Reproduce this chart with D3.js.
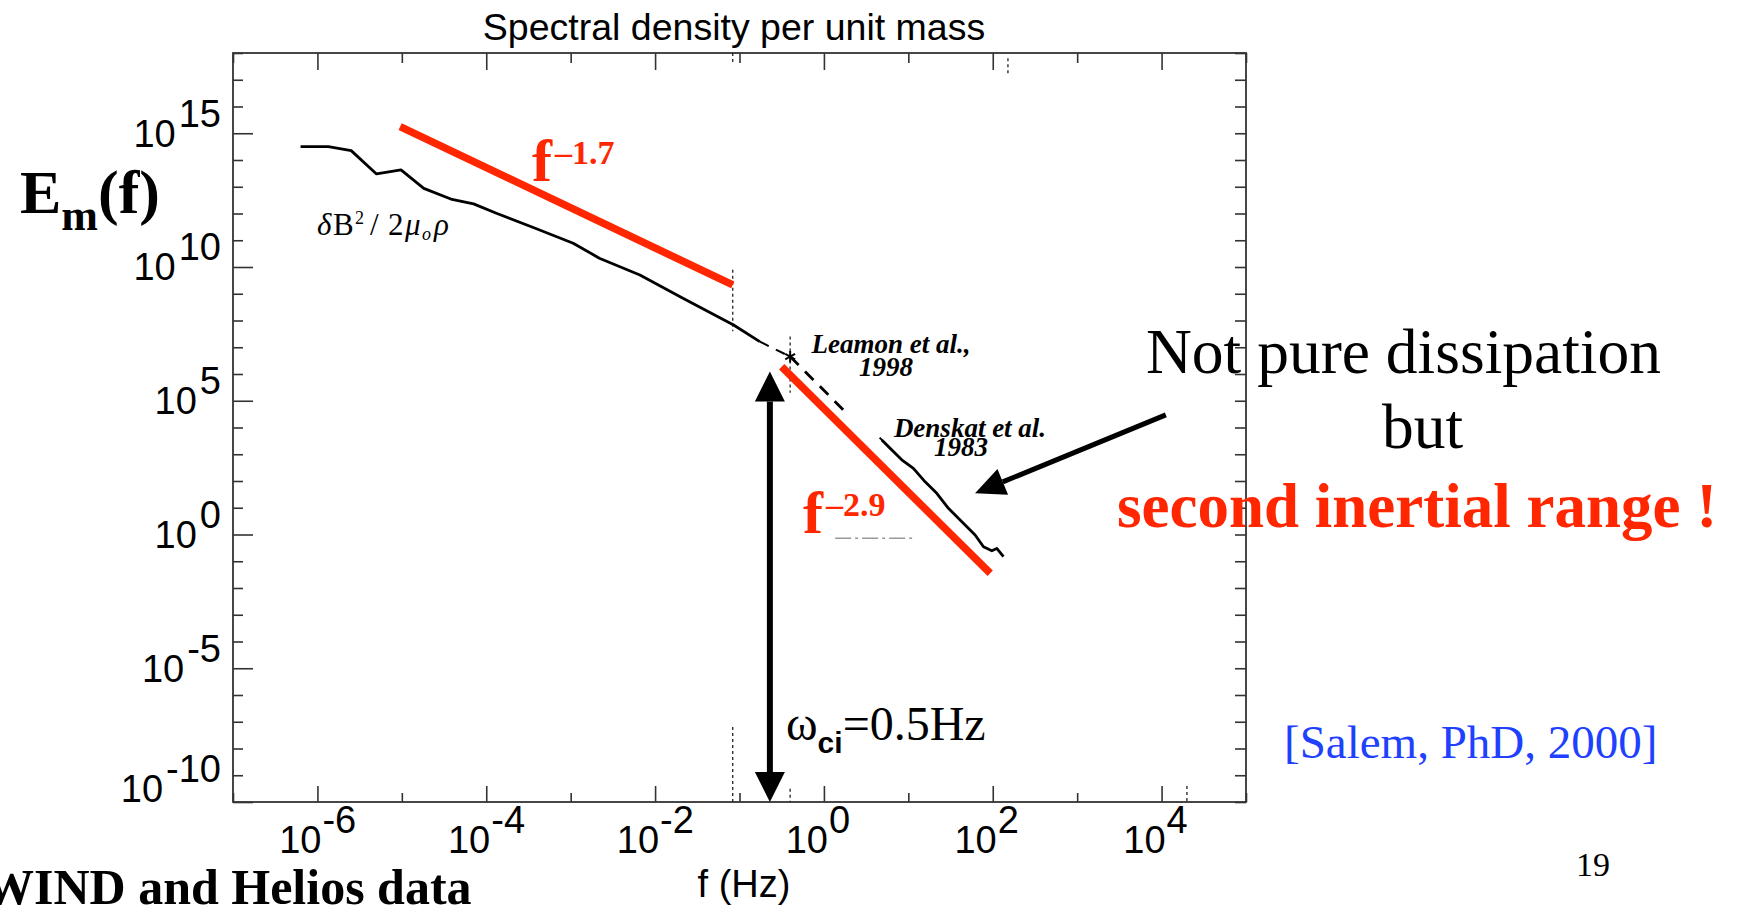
<!DOCTYPE html>
<html>
<head>
<meta charset="utf-8">
<script src="https://cdn.jsdelivr.net/npm/d3@7"></script>
<style>
  html, body { margin: 0; padding: 0; background: #fff; overflow: hidden; }
  svg { display: block; }
</style>
</head>
<body>
<svg id="chart" width="1741" height="907"></svg>
<script>
// ── Data: log10 values ────────────────────────────────────────────────────────
const spectrumLogF = [-6.20, -5.87, -5.60, -5.30, -5.01, -4.74, -4.42, -4.15, -3.88, -3.42, -2.97, -2.66, -2.18, -1.67, -1.07, -0.76]
const spectrumLogE = [14.50, 14.50, 14.35, 13.48, 13.63, 12.94, 12.54, 12.36, 12.01, 11.45, 10.89, 10.33, 9.70, 8.83, 7.83, 7.21]
const bridgeLogF   = [-0.76, -0.40]          // dashed gap up to the Leamon point
const bridgeLogE   = [7.21, 6.65]
const leamonLogF   = [-0.40, 0.29]
const leamonLogE   = [6.65, 4.47]
const denskatLogF  = [0.686, 0.823, 0.922, 1.060, 1.199, 1.337, 1.475, 1.634, 1.791, 1.890, 1.989, 2.048, 2.127]
const denskatLogE  = [3.53, 3.10, 2.79, 2.47, 1.97, 1.54, 0.98, 0.48, -0.02, -0.46, -0.61, -0.52, -0.83]
const denskatTwinLogF = [0.66, 0.80]
const denskatTwinLogE = [3.62, 3.17]

// power-law guide lines (red)
const fit17LogF = [-5.02, -1.08]
const fit17LogE = [15.25, 9.33]
const fit29LogF = [-0.50, 1.97]
const fit29LogE = [6.27, -1.45]

// faint dash-dot segment under the f^-2.9 label
const greyLogF = [0.133, 1.081]
const greyLogE = [-0.14, -0.14]

// ion cyclotron arrow and the pointer arrow
const ciLogF = -0.64
const ciTopLogE = 6.09
const pointerLogF = [4.05, 1.79]
const pointerLogE = [4.47, 1.54]

// dotted marker lines in the original plot
const dotLogF  = [-1.08, -1.08, -1.08, -0.40, -0.40, 4.30, 2.18]
const dotLogE0 = [18.0, 9.9, -7.2, 7.4, -9.5, -9.4, 17.8]
const dotLogE1 = [17.6, 7.6, -10.0, 5.3, -10.0, -10.0, 17.2]

// ticks
const xDecades  = [-7, -6, -5, -4, -3, -2, -1, 0, 1, 2, 3, 4, 5]
const xLabelled = [-6, -4, -2, 0, 2, 4]
const yDecades  = [-10, -9, -8, -7, -6, -5, -4, -3, -2, -1, 0, 1, 2, 3, 4, 5, 6, 7, 8, 9, 10, 11, 12, 13, 14, 15, 16, 17, 18]
const yLabelled = [-10, -5, 0, 5, 10, 15]

// ── Setup ─────────────────────────────────────────────────────────────────────
const SANS  = '"Liberation Sans", Arial, Helvetica, sans-serif'
const SERIF = '"Liberation Serif", "Times New Roman", serif'
const RED   = '#ff2600'
const M = { left: 233, right: 1246, top: 53, bottom: 802 }
const p10 = v => Math.pow(10, v)

const svg = d3.select('#chart')
const x = d3.scaleLog().domain([1e-7, 1e5]).range([M.left, M.right])
const y = d3.scaleLog().domain([1e-10, 1e18]).range([M.bottom, M.top])
const px = lf => x(p10(lf))
const py = le => y(p10(le))

const line = d3.line().x(d => px(d[0])).y(d => py(d[1]))

// ── Axes: major + minor decade ticks pointing inward on all four sides ───────
const yMinor = yDecades.filter(e => !yLabelled.includes(e))
const xMinor = xDecades.filter(e => !xLabelled.includes(e))

function addAxis(gen, scale, exps, size, tx, ty) {
  svg.append('g')
    .attr('transform', `translate(${tx},${ty})`)
    .call(gen(scale).tickValues(exps.map(p10)).tickSize(size).tickSizeOuter(0).tickFormat(''))
    .call(g => g.select('.domain').remove())
    .call(g => g.selectAll('.tick line').attr('stroke', '#333').attr('stroke-width', 1.6))
}
addAxis(d3.axisLeft,   y, yLabelled, -20, M.left, 0)
addAxis(d3.axisLeft,   y, yMinor,    -10, M.left, 0)
addAxis(d3.axisRight,  y, yDecades,  -11, M.right, 0)
addAxis(d3.axisBottom, x, xLabelled, -16, 0, M.bottom)
addAxis(d3.axisBottom, x, xMinor,     -9, 0, M.bottom)
addAxis(d3.axisTop,    x, xLabelled, -17, 0, M.top)
addAxis(d3.axisTop,    x, xMinor,    -10, 0, M.top)

svg.append('rect')
  .attr('x', M.left).attr('y', M.top)
  .attr('width', M.right - M.left).attr('height', M.bottom - M.top)
  .attr('fill', 'none').attr('stroke', '#333').attr('stroke-width', 1.8)

const expText = e => (e < 0 ? '-' + Math.abs(e) : String(e))

// y tick labels: "10" centred on tick, exponent raised
yLabelled.forEach(e => {
  const base = Math.min(y(p10(e)) + 13.4, M.bottom)
  const t = svg.append('text')
    .attr('x', M.left - 12).attr('y', base)
    .attr('text-anchor', 'end')
    .attr('font-family', SANS).attr('font-size', 38)
  t.append('tspan').text('10')
  t.append('tspan').attr('dy', -20).attr('dx', 3).text(expText(e))
})

// x tick labels
xLabelled.forEach(e => {
  const xx = x(p10(e))
  svg.append('text')
    .attr('x', xx + 4).attr('y', 853)
    .attr('text-anchor', 'end')
    .attr('font-family', SANS).attr('font-size', 38)
    .text('10')
  svg.append('text')
    .attr('x', xx + 5).attr('y', 833)
    .attr('font-family', SANS).attr('font-size', 38)
    .text(expText(e))
})

// ── Titles ────────────────────────────────────────────────────────────────────
svg.append('text')
  .attr('x', 734).attr('y', 40).attr('text-anchor', 'middle')
  .attr('font-family', SANS).attr('font-size', 37.5)
  .text('Spectral density per unit mass')

svg.append('text')
  .attr('x', 744).attr('y', 897).attr('text-anchor', 'middle')
  .attr('font-family', SANS).attr('font-size', 38)
  .text('f (Hz)')

const em = svg.append('text')
  .attr('x', 20).attr('y', 213)
  .attr('font-family', SERIF).attr('font-weight', 'bold')
em.append('tspan').attr('font-size', 62).text('E')
em.append('tspan').attr('font-size', 44).attr('dy', 17).text('m')
em.append('tspan').attr('font-size', 62).attr('dy', -17).text('(f)')

// ── Dotted marker lines ───────────────────────────────────────────────────────
svg.append('g').selectAll('line')
  .data(d3.zip(dotLogF, dotLogE0, dotLogE1))
  .join('line')
  .attr('x1', d => px(d[0])).attr('x2', d => px(d[0]))
  .attr('y1', d => py(d[1])).attr('y2', d => py(d[2]))
  .attr('stroke', '#222').attr('stroke-width', 1.3)
  .attr('stroke-dasharray', '3,3')

// ── Spectra ───────────────────────────────────────────────────────────────────
svg.append('path')
  .attr('d', line(d3.zip(spectrumLogF, spectrumLogE)))
  .attr('fill', 'none').attr('stroke', '#000').attr('stroke-width', 2.8)
  .attr('stroke-linejoin', 'round')

svg.append('path')
  .attr('d', line(d3.zip(bridgeLogF, bridgeLogE)))
  .attr('fill', 'none').attr('stroke', '#000').attr('stroke-width', 2)
  .attr('stroke-dasharray', '10,8')

svg.append('path')
  .attr('d', line(d3.zip(leamonLogF, leamonLogE)))
  .attr('fill', 'none').attr('stroke', '#000').attr('stroke-width', 2.8)
  .attr('stroke-dasharray', '12,9')

svg.append('path')
  .attr('d', d3.symbol(d3.symbolAsterisk, 90)())
  .attr('transform', `translate(${px(leamonLogF[0])},${py(leamonLogE[0])})`)
  .attr('fill', 'none').attr('stroke', '#000').attr('stroke-width', 2)

svg.append('path')
  .attr('d', line(d3.zip(denskatLogF, denskatLogE)))
  .attr('fill', 'none').attr('stroke', '#000').attr('stroke-width', 2.8)
  .attr('stroke-linejoin', 'round')

svg.append('path')
  .attr('d', line(d3.zip(denskatTwinLogF, denskatTwinLogE)))
  .attr('fill', 'none').attr('stroke', '#000').attr('stroke-width', 2)

svg.append('path')
  .attr('d', line(d3.zip(greyLogF, greyLogE)))
  .attr('fill', 'none').attr('stroke', '#999').attr('stroke-width', 1.5)
  .attr('stroke-dasharray', '16,4,3,4')

// ── Power-law guides ──────────────────────────────────────────────────────────
;[[fit17LogF, fit17LogE], [fit29LogF, fit29LogE]].forEach(([lf, le]) => {
  svg.append('path')
    .attr('d', line(d3.zip(lf, le)))
    .attr('fill', 'none').attr('stroke', RED).attr('stroke-width', 7.5)
})

// ── Arrows ────────────────────────────────────────────────────────────────────
function head(tip, from, len, half) {
  const dx = tip[0] - from[0], dy = tip[1] - from[1], L = Math.hypot(dx, dy)
  const ux = dx / L, uy = dy / L
  const bx = tip[0] - ux * len, by = tip[1] - uy * len
  return { base: [bx, by], pts: [tip, [bx - uy * half, by + ux * half], [bx + uy * half, by - ux * half]] }
}
function arrow(a, b, width, len, half, both) {
  const hb = head(b, a, len, half)
  const ha = both ? head(a, b, len, half) : null
  const start = ha ? ha.base : a
  svg.append('line')
    .attr('x1', start[0]).attr('y1', start[1])
    .attr('x2', hb.base[0]).attr('y2', hb.base[1])
    .attr('stroke', '#000').attr('stroke-width', width)
  ;[hb, ha].filter(Boolean).forEach(h => {
    svg.append('polygon').attr('points', h.pts.map(p => p.join(',')).join(' ')).attr('fill', '#000')
  })
}
arrow([px(ciLogF), py(ciTopLogE)], [px(ciLogF), y(1e-10)], 6, 30, 15, true)
arrow([px(pointerLogF[0]), py(pointerLogE[0])], [px(pointerLogF[1]), py(pointerLogE[1])], 5, 30, 14, false)

// ── Annotations ───────────────────────────────────────────────────────────────
function powerLabel(xx, yy, exp) {
  const t = svg.append('text').attr('x', xx).attr('y', yy)
    .attr('font-family', SERIF).attr('font-weight', 'bold').attr('fill', RED)
  t.append('tspan').attr('font-size', 60).text('f')
  t.append('tspan').attr('font-size', 34).attr('dx', 3).attr('dy', -17).text(exp)
}
powerLabel(532, 181, '\u20131.7')
powerLabel(803, 533, '\u20132.9')

// δB²/2μ₀ρ
const db = svg.append('text').attr('y', 235).attr('font-family', SERIF).attr('font-size', 31)
db.append('tspan').attr('x', 317).attr('font-style', 'italic').text('δ')
db.append('tspan').attr('x', 333).text('B')
db.append('tspan').attr('x', 355).attr('y', 224).attr('font-size', 18).text('2')
db.append('tspan').attr('x', 370).attr('y', 235).text('/')
db.append('tspan').attr('x', 388).text('2')
db.append('tspan').attr('x', 405).attr('font-style', 'italic').text('μ')
db.append('tspan').attr('x', 422).attr('y', 240).attr('font-size', 18).attr('font-style', 'italic').text('o')
db.append('tspan').attr('x', 434).attr('y', 235).attr('font-style', 'italic').text('ρ')

function refLabel(lines) {
  lines.forEach(([txt, xx, yy]) => {
    svg.append('text').attr('x', xx).attr('y', yy).attr('text-anchor', 'middle')
      .attr('font-family', SERIF).attr('font-size', 27)
      .attr('font-weight', 'bold').attr('font-style', 'italic')
      .text(txt)
  })
}
refLabel([['Leamon et al.,', 891, 353], ['1998', 886, 376]])
refLabel([['Denskat et al.', 970, 437], ['1983', 961, 456]])

const wci = svg.append('text').attr('x', 786).attr('y', 740).attr('font-family', SERIF).attr('font-size', 48)
wci.append('tspan').text('ω')
wci.append('tspan').attr('font-family', SANS).attr('font-weight', 'bold').attr('font-size', 30).attr('dy', 13).text('ci')
wci.append('tspan').attr('dy', -13).text('=0.5Hz')

svg.append('text').attr('x', 1146).attr('y', 373)
  .attr('font-family', SERIF).attr('font-size', 63.5).text('Not pure dissipation')
svg.append('text').attr('x', 1382).attr('y', 448)
  .attr('font-family', SERIF).attr('font-size', 63.5).text('but')
svg.append('text').attr('x', 1117).attr('y', 527)
  .attr('font-family', SERIF).attr('font-size', 63).attr('font-weight', 'bold').attr('fill', RED)
  .text('second inertial range !')

svg.append('text').attr('x', 1284).attr('y', 758)
  .attr('font-family', SERIF).attr('font-size', 47).attr('fill', '#2040ff')
  .text('[Salem, PhD, 2000]')

svg.append('text').attr('x', 1576).attr('y', 876)
  .attr('font-family', SERIF).attr('font-size', 34).text('19')

svg.append('text').attr('x', -16).attr('y', 904)
  .attr('font-family', SERIF).attr('font-size', 50).attr('font-weight', 'bold')
  .text('WIND and Helios data')
</script>
</body>
</html>
